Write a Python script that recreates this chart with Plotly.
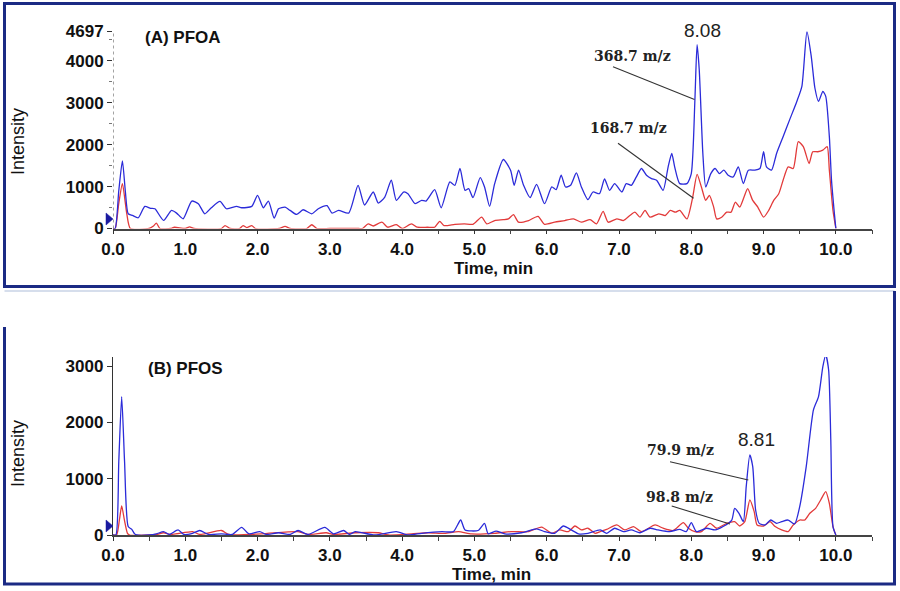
import plotly.graph_objects as go

# ---------------- data ----------------
# Panel A: PFOA, 368.7 m/z (blue)
t_pfoa_3687 = [0.0, 0.03, 0.08, 0.13, 0.17, 0.21, 0.27, 0.35, 0.44, 0.52, 0.58, 0.70, 0.81, 0.88, 0.97,
               1.09, 1.18, 1.27, 1.36, 1.48, 1.57, 1.71, 1.78, 1.92, 2.00, 2.08, 2.15, 2.23, 2.29, 2.38,
               2.45, 2.54, 2.63, 2.75, 2.84, 2.96, 3.03, 3.12, 3.26, 3.39, 3.48, 3.60, 3.67, 3.76, 3.85,
               3.92, 4.02, 4.08, 4.18, 4.27, 4.33, 4.45, 4.54, 4.66, 4.73, 4.80, 4.87, 4.92, 4.98, 5.08,
               5.14, 5.21, 5.28, 5.40, 5.50, 5.55, 5.61, 5.68, 5.77, 5.86, 5.97, 6.07, 6.13, 6.20, 6.26,
               6.33, 6.41, 6.48, 6.57, 6.64, 6.73, 6.80, 6.87, 6.94, 7.04, 7.10, 7.17, 7.24, 7.31, 7.38,
               7.45, 7.52, 7.61, 7.68, 7.73, 7.77, 7.84, 7.94, 8.00, 8.05, 8.08, 8.11, 8.16, 8.20, 8.27,
               8.33, 8.39, 8.45, 8.51, 8.58, 8.65, 8.72, 8.79, 8.88, 8.95, 9.00, 9.04, 9.11, 9.18, 9.27,
               9.36, 9.46, 9.53, 9.60, 9.66, 9.71, 9.76, 9.82, 9.86, 9.91, 9.94, 9.98, 10.0]
i_pfoa_3687 = [0, 0, 900, 1612, 900, 352, 311, 256, 527, 480, 471, 192, 431, 367, 232,
               654, 591, 351, 495, 646, 471, 527, 495, 527, 790, 495, 654, 247, 471, 511,
               431, 335, 447, 351, 471, 543, 367, 431, 367, 1030, 560, 870, 607, 750, 1150,
               671, 870, 830, 591, 671, 655, 926, 495, 1110, 1030, 1430, 910, 950, 735, 1214,
               990, 527, 1070, 1645, 1390, 1030, 1390, 1030, 735, 1054, 591, 990, 926, 1270, 990,
               1030, 1325, 990, 687, 870, 830, 1180, 910, 1070, 870, 1070, 1030, 1230, 1430, 1270,
               1190, 1150, 910, 1470, 1790, 1470, 1070, 1070, 1310, 3066, 4383, 3784, 1790, 990, 1310,
               1430, 1310, 1390, 1270, 1230, 1470, 1070, 1390, 1390, 1430, 1830, 1470, 1390, 1790, 2190,
               2590, 3030, 3390, 4697, 4100, 3350, 3030, 3270, 3150, 2190, 1150, 350, 0]

# Panel A: PFOA, 168.7 m/z (red)
t_pfoa_1687 = [0.0, 0.03, 0.08, 0.13, 0.19, 0.24, 0.50, 0.56, 0.60, 0.65, 0.80, 0.85, 1.00, 1.06, 1.12,
               1.50, 1.55, 1.62, 1.75, 1.80, 1.85, 1.92, 1.97, 2.30, 2.38, 2.45, 2.68, 2.75, 2.82, 3.00,
               3.40, 3.45, 3.53, 3.60, 3.72, 3.80, 3.92, 4.00, 4.13, 4.21, 4.35, 4.45, 4.52, 4.58, 4.73,
               4.86, 4.98, 5.10, 5.17, 5.28, 5.40, 5.47, 5.54, 5.61, 5.75, 5.88, 5.97, 6.11, 6.25, 6.37,
               6.48, 6.60, 6.69, 6.78, 6.85, 6.97, 7.06, 7.15, 7.22, 7.29, 7.36, 7.43, 7.55, 7.64, 7.71,
               7.78, 7.84, 7.94, 8.02, 8.08, 8.14, 8.20, 8.25, 8.31, 8.35, 8.42, 8.49, 8.55, 8.61, 8.67,
               8.73, 8.78, 8.85, 8.92, 9.00, 9.07, 9.14, 9.21, 9.27, 9.34, 9.41, 9.48, 9.55, 9.63, 9.68,
               9.75, 9.82, 9.88, 9.91, 9.96, 10.0]
i_pfoa_1687 = [0, 0, 600, 1070, 360, 0, 0, 60, 127, 0, 0, 30, 0, 40, 0,
               0, 70, 0, 0, 70, 20, 70, 0, 0, 50, 0, 0, 90, 0, 0,
               0, 0, 110, 60, 150, 30, 90, 0, 110, 30, 30, 30, 170, 70, 100,
               110, 100, 270, 110, 190, 210, 230, 330, 150, 190, 290, 100, 150, 190, 230,
               150, 210, 110, 410, 150, 230, 190, 310, 390, 270, 430, 270, 350, 310, 430,
               390, 430, 230, 750, 1290, 990, 670, 790, 510, 230, 270, 390, 390, 630, 510,
               750, 950, 670, 510, 270, 430, 670, 830, 1150, 1470, 1430, 2070, 1950, 1550, 1830,
               1830, 1870, 1950, 1390, 430, 0]

# Panel B: PFOS, 79.9 m/z (blue)
t_pfos_799 = [0.0, 0.04, 0.08, 0.12, 0.16, 0.21, 0.26, 0.30, 0.33, 0.50, 0.60, 0.70, 0.78, 0.90, 0.98,
              1.10, 1.20, 1.32, 1.50, 1.65, 1.78, 1.88, 2.03, 2.12, 2.29, 2.45, 2.56, 2.70, 2.93, 3.05,
              3.19, 3.27, 3.35, 3.62, 3.92, 4.08, 4.27, 4.55, 4.71, 4.81, 4.87, 5.05, 5.14, 5.19, 5.30,
              5.42, 5.65, 5.86, 5.97, 6.11, 6.23, 6.34, 6.44, 6.57, 6.74, 6.83, 6.94, 7.06, 7.17, 7.29,
              7.43, 7.54, 7.70, 7.84, 7.93, 8.00, 8.07, 8.21, 8.33, 8.44, 8.56, 8.60, 8.66, 8.72, 8.76,
              8.81, 8.85, 8.89, 8.94, 9.02, 9.10, 9.18, 9.25, 9.34, 9.43, 9.50, 9.59, 9.69, 9.76, 9.82,
              9.86, 9.90, 9.93, 9.96, 10.0]
i_pfos_799 = [0, 0, 1300, 2457, 1300, 150, 100, 20, 0, 0, 20, 60, 10, 90, 10,
              30, 80, 10, 20, 10, 135, 20, 60, 10, 40, 10, 80, 10, 135, 20,
              80, 10, 60, 0, 60, 0, 30, 60, 60, 266, 90, 80, 207, 20, 70,
              20, 40, 110, 60, 30, 160, 90, 20, 30, 90, 30, 120, 60, 90, 40,
              120, 90, 60, 100, 60, 220, 60, 120, 90, 150, 266, 474, 385, 237, 858,
              1421, 1213, 444, 207, 178, 266, 207, 237, 266, 196, 503, 1213, 2220, 2457, 2990,
              3197, 2930, 1687, 150, 0]

# Panel B: PFOS, 98.8 m/z (red)
t_pfos_988 = [0.0, 0.05, 0.09, 0.12, 0.16, 0.20, 0.23, 0.50, 0.60, 0.70, 0.80, 1.10, 1.20, 1.50, 1.60,
              2.05, 2.56, 2.70, 2.95, 3.05, 3.35, 3.67, 3.81, 4.13, 4.36, 4.59, 4.78, 4.96, 5.28, 5.51,
              5.74, 5.93, 6.07, 6.18, 6.30, 6.39, 6.48, 6.57, 6.67, 6.74, 6.83, 6.97, 7.08, 7.20, 7.31,
              7.50, 7.61, 7.75, 7.89, 7.96, 8.05, 8.14, 8.26, 8.35, 8.49, 8.60, 8.67, 8.74, 8.81, 8.87,
              8.91, 9.00, 9.09, 9.16, 9.25, 9.34, 9.41, 9.50, 9.57, 9.64, 9.72, 9.79, 9.86, 9.91, 9.96,
              10.0]
i_pfos_988 = [0, 0, 280, 515, 250, 30, 0, 0, 10, 40, 10, 60, 10, 80, 10,
              20, 60, 10, 40, 10, 40, 40, 0, 20, 40, 30, 60, 20, 30, 60,
              60, 140, 30, 90, 60, 160, 90, 120, 30, 60, 100, 178, 90, 150, 60,
              178, 120, 80, 220, 120, 60, 60, 207, 120, 207, 237, 160, 237, 621, 414,
              178, 160, 237, 150, 90, 60, 178, 266, 266, 385, 474, 621, 770, 562, 150,
              0]

x_ticks = [0, 1, 2, 3, 4, 5, 6, 7, 8, 9, 10]
x_ticktext = ["0.0", "1.0", "2.0", "3.0", "4.0", "5.0", "6.0", "7.0", "8.0", "9.0", "10.0"]
x_minor = [0.5, 1.5, 2.5, 3.5, 4.5, 5.5, 6.5, 7.5, 8.5, 9.5, 10.5]
ya_ticks = [0, 1000, 2000, 3000, 4000, 4697]
yb_ticks = [0, 1000, 2000, 3000]

# ---------------- figure ----------------
W, H = 900, 591
BLUE = "#2b2bd9"
RED = "#e23a3a"
NAVY = "#1b2a84"


def px(x):
    return x / W


def py(y):
    return 1 - y / H


fig = go.Figure()
line_kw = dict(shape="spline", smoothing=0.6, width=1.3)
fig.add_trace(go.Scatter(x=t_pfoa_1687, y=i_pfoa_1687, mode="lines", line=dict(color=RED, **line_kw),
                         xaxis="x", yaxis="y", showlegend=False))
fig.add_trace(go.Scatter(x=t_pfoa_3687, y=i_pfoa_3687, mode="lines", line=dict(color=BLUE, **line_kw),
                         xaxis="x", yaxis="y", showlegend=False))
fig.add_trace(go.Scatter(x=t_pfos_988, y=i_pfos_988, mode="lines", line=dict(color=RED, **line_kw),
                         xaxis="x2", yaxis="y2", showlegend=False))
fig.add_trace(go.Scatter(x=t_pfos_799, y=i_pfos_799, mode="lines", line=dict(color=BLUE, **line_kw),
                         xaxis="x2", yaxis="y2", showlegend=False))

tickfont = dict(family="Liberation Sans, Arial, sans-serif", size=17, color="#111")
xcommon = dict(range=[0, 10.5], tickmode="array", tickvals=x_ticks, ticktext=["<b>%s</b>" % s for s in x_ticktext],
               ticks="outside", ticklen=4, tickwidth=1.3, tickcolor="#333", showline=True, linecolor="#444",
               linewidth=1.6, showgrid=False, zeroline=False, tickfont=tickfont, automargin=False,
               minor=dict(tickvals=x_minor, ticks="outside", ticklen=4, tickcolor="#444", showgrid=False),
               domain=[px(113), px(872)], fixedrange=True)

fig.update_layout(
    width=W, height=H, margin=dict(l=0, r=0, t=0, b=0, autoexpand=False),
    paper_bgcolor="white", plot_bgcolor="rgba(0,0,0,0)",
    xaxis=dict(anchor="y", **xcommon),
    yaxis=dict(anchor="x", domain=[py(228.5), py(31.5)], range=[0, 4697], tickmode="array",
               tickvals=ya_ticks, ticktext=["<b>%d</b>" % v for v in ya_ticks], ticks="outside",
               ticklen=5, tickwidth=1.3, tickcolor="#333", showline=False, showgrid=False,
               zeroline=False, tickfont=tickfont, automargin=False, fixedrange=True,
               minor=dict(dtick=500, ticks="outside", ticklen=3, tickcolor="#777", showgrid=False)),
    xaxis2=dict(anchor="y2", **xcommon),
    yaxis2=dict(anchor="x2", domain=[py(535), py(357)], range=[0, 3160], tickmode="array",
                tickvals=yb_ticks, ticktext=["<b>%d</b>" % v for v in yb_ticks], ticks="outside",
                ticklen=5, tickwidth=1.3, tickcolor="#333", showline=True, linecolor="#333",
                linewidth=1.3, showgrid=False, zeroline=False, tickfont=tickfont, automargin=False,
                fixedrange=True),
)

shapes = []
# dotted y-axis for panel A
shapes.append(dict(type="line", xref="x", yref="y", x0=0, x1=0, y0=0, y1=4697,
                   line=dict(color="#666", width=1.2, dash="dot")))
# panel frames
shapes.append(dict(type="rect", xref="paper", yref="paper", x0=px(4.5), x1=px(894.5), y0=py(286.5), y1=py(3.5),
                   line=dict(color=NAVY, width=3), layer="above"))
shapes.append(dict(type="line", xref="paper", yref="paper", x0=px(4.5), x1=px(894.5), y0=py(291), y1=py(291),
                   line=dict(color="#c9d3e6", width=1.5)))
shapes.append(dict(type="line", xref="paper", yref="paper", x0=px(4.5), x1=px(4.5), y0=py(327), y1=py(584),
                   line=dict(color=NAVY, width=3)))
shapes.append(dict(type="line", xref="paper", yref="paper", x0=px(894.5), x1=px(894.5), y0=py(291), y1=py(584),
                   line=dict(color=NAVY, width=3)))
shapes.append(dict(type="line", xref="paper", yref="paper", x0=px(3), x1=px(896), y0=py(584), y1=py(584),
                   line=dict(color=NAVY, width=3)))
# baseline markers (small triangles)
for yc in (219, 526):
    shapes.append(dict(type="path", xref="paper", yref="paper",
                       path="M %f %f L %f %f L %f %f Z" % (px(106), py(yc - 6), px(113), py(yc), px(106), py(yc + 6)),
                       fillcolor="#1a1aa0", line=dict(color="#1a1aa0", width=0.5)))
# leader lines
for (x0, y0, x1, y1) in [(613, 66.7, 694.5, 99.5), (618, 143.3, 693.5, 198.3),
                         (670, 461.7, 748.3, 480), (671.7, 506, 730, 524)]:
    shapes.append(dict(type="line", xref="paper", yref="paper", x0=px(x0), y0=py(y0), x1=px(x1), y1=py(y1),
                       line=dict(color="#333", width=1.1)))
fig.update_layout(shapes=shapes)

ann = []


def text(x, y, s, size, family="Liberation Sans, Arial, sans-serif", color="#111", angle=0):
    ann.append(dict(xref="paper", yref="paper", x=px(x), y=py(y), text=s, showarrow=False,
                    xanchor="center", yanchor="middle", textangle=angle,
                    font=dict(family=family, size=size, color=color)))


text(183, 37, "<b>(A) PFOA</b>", 17)
text(185, 368, "<b>(B) PFOS</b>", 17)
text(18, 142, "Intensity", 18, angle=-90)
text(18, 454, "Intensity", 18, angle=-90)
text(493, 268, "<b>Time, min</b>", 17)
text(492, 574, "<b>Time, min</b>", 17)
text(702, 30, "8.08", 19, color="#222")
text(756, 439, "8.81", 19, color="#222")
serif = "DejaVu Serif, serif"
text(632, 56, "<b>368.7 m/z</b>", 14, family=serif, color="#222")
text(628, 128, "<b>168.7 m/z</b>", 14, family=serif, color="#222")
text(680, 450, "<b>79.9 m/z</b>", 14, family=serif, color="#222")
text(679, 497, "<b>98.8 m/z</b>", 14, family=serif, color="#222")
fig.update_layout(annotations=ann)

fig.write_html("out.html", config={"displayModeBar": False},
               post_script="document.body.style.margin='0';document.body.style.overflow='hidden';")
